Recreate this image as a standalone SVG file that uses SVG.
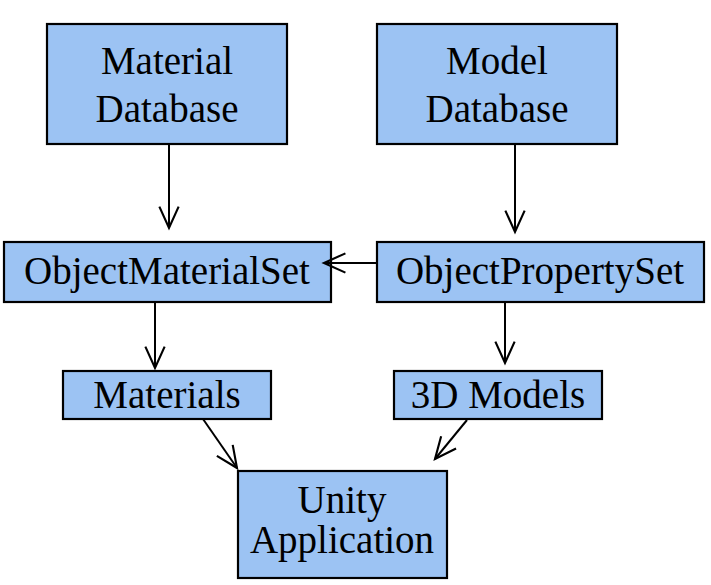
<svg xmlns="http://www.w3.org/2000/svg" width="711" height="585" viewBox="0 0 711 585">
<defs>
<style>
.box{fill:#9CC3F3;stroke:#000;stroke-width:2.2}
.lbl{font-size:39px;fill:#000;text-anchor:middle}
.con{stroke:#000;stroke-width:2;fill:none}
</style>
<marker id="ah" markerUnits="userSpaceOnUse" markerWidth="30" markerHeight="30" viewBox="-24 -12 28 24" refX="0" refY="0" orient="auto">
<path d="M-20,-9 L0,0 L-20,9" fill="none" stroke="#000" stroke-width="2"/>
</marker>
</defs>
<rect width="711" height="585" fill="#fff"/>
<g font-family="Liberation Serif, DejaVu Serif, serif">
<g id="material-db">
<rect class="box" x="47" y="24" width="240" height="120"/>
<text class="lbl" x="167" y="74">Material</text>
<text class="lbl" x="167" y="122">Database</text>
</g>
<g id="model-db">
<rect class="box" x="377" y="24" width="240" height="120"/>
<text class="lbl" x="497" y="74">Model</text>
<text class="lbl" x="497" y="122">Database</text>
</g>
<g id="object-material-set">
<rect class="box" x="4" y="242" width="327" height="60"/>
<text class="lbl" x="167" y="284">ObjectMaterialSet</text>
</g>
<g id="object-property-set">
<rect class="box" x="377" y="242" width="327" height="60"/>
<text class="lbl" x="540" y="284">ObjectPropertySet</text>
</g>
<g id="materials">
<rect class="box" x="63" y="371" width="208" height="48"/>
<text class="lbl" x="167" y="408">Materials</text>
</g>
<g id="models-3d">
<rect class="box" x="394" y="371" width="208" height="48"/>
<text class="lbl" x="498" y="408">3D Models</text>
</g>
<g id="unity-app">
<rect class="box" x="238" y="471" width="209" height="107"/>
<text class="lbl" x="342" y="513">Unity</text>
<text class="lbl" x="342" y="553">Application</text>
</g>
</g>
<g id="connectors">
<line class="con" x1="169" y1="145" x2="169" y2="228" marker-end="url(#ah)"/>
<line class="con" x1="515" y1="145" x2="515" y2="232" marker-end="url(#ah)"/>
<line class="con" x1="377" y1="263" x2="324" y2="263" marker-end="url(#ah)"/>
<line class="con" x1="155" y1="302" x2="155" y2="368" marker-end="url(#ah)"/>
<line class="con" x1="505" y1="302" x2="505" y2="363" marker-end="url(#ah)"/>
<line class="con" x1="203" y1="419" x2="237" y2="468" stroke-width="2.6" marker-end="url(#ah)"/>
<line class="con" x1="467" y1="420" x2="435" y2="459" marker-end="url(#ah)"/>
</g>
</svg>
